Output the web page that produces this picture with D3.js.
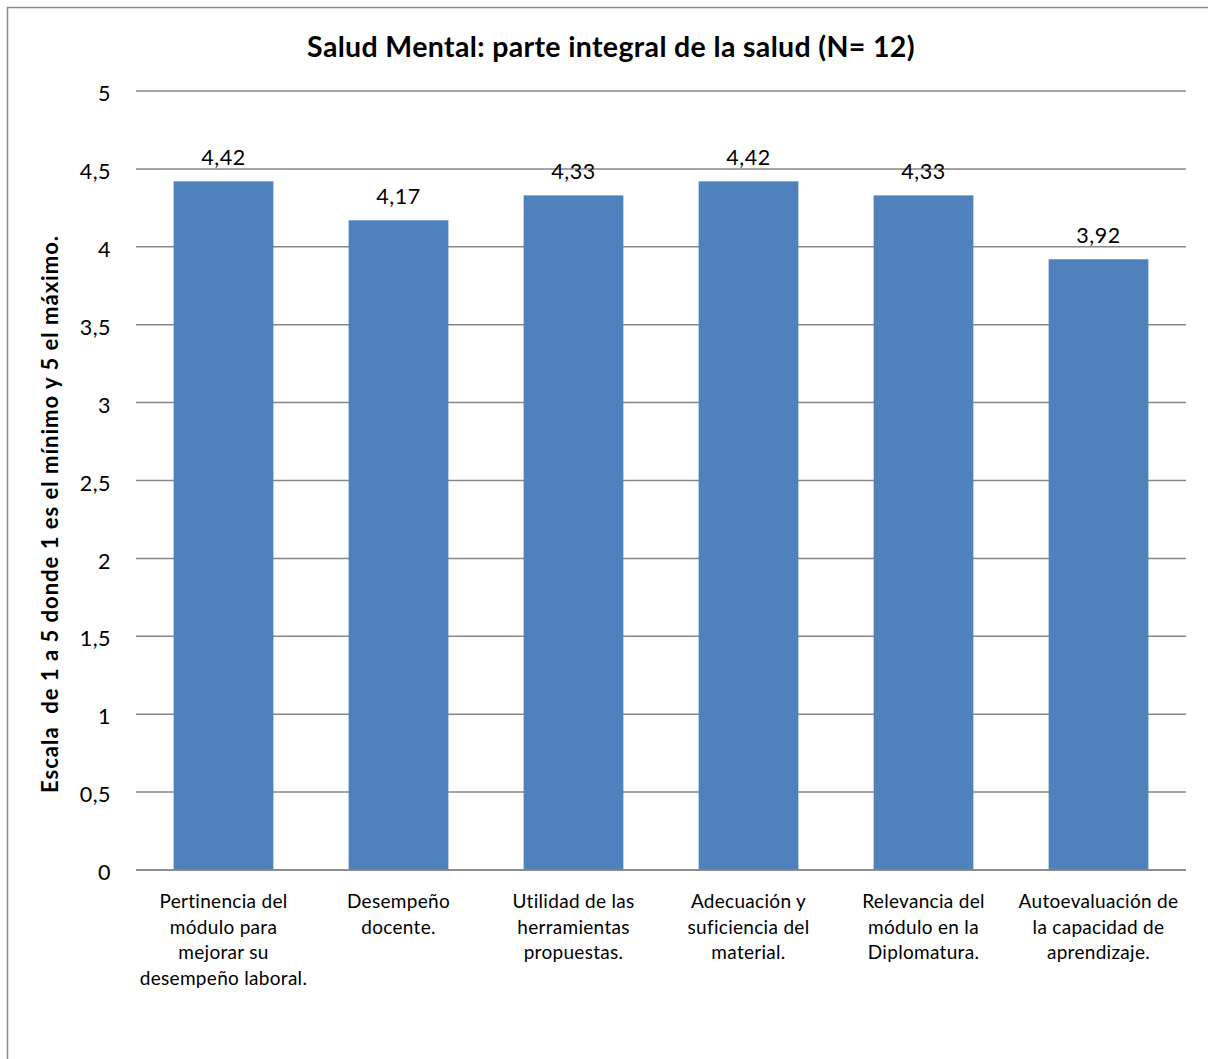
<!DOCTYPE html>
<html><head><meta charset="utf-8">
<script src="https://cdn.jsdelivr.net/npm/d3@7"></script>
<style>body{margin:0;background:#fff}svg{display:block}</style>
</head><body>
<script>
const categories = [
  ["Pertinencia del","módulo para","mejorar su","desempeño laboral."],
  ["Desempeño","docente."],
  ["Utilidad de las","herramientas","propuestas."],
  ["Adecuación y","suficiencia del","material."],
  ["Relevancia del","módulo en la","Diplomatura."],
  ["Autoevaluación de","la capacidad de","aprendizaje."]
];
const values = [4.42, 4.17, 4.33, 4.42, 4.33, 3.92];
const yTicks = [0, 0.5, 1, 1.5, 2, 2.5, 3, 3.5, 4, 4.5, 5];
const title = "Salud Mental: parte integral de la salud (N= 12)";
const yTitle = "Escala  de 1 a 5 donde 1 es el mínimo y 5 el máximo.";

(function () {
const W = 1208, H = 1059;
const font = "Lato, 'Open Sans', sans-serif";
const svg = d3.select("body").append("svg").attr("width", W).attr("height", H);
svg.append("rect").attr("x", 7.5).attr("y", 7.5).attr("width", W).attr("height", H)
  .attr("fill", "#fff").attr("stroke", "#8c8c8c").attr("stroke-width", 1.5);

const pL = 136, pR = 1186, pT = 91, pB = 870;
const x = d3.scaleBand().domain(d3.range(categories.length)).range([pL, pR]).paddingInner(0.43).paddingOuter(0.215);
const y = d3.scaleLinear().domain([0, 5]).range([pB, pT]);

svg.append("g").selectAll("line").data(yTicks).join("line")
  .attr("x1", pL).attr("x2", pR)
  .attr("y1", d => y(d)).attr("y2", d => y(d))
  .attr("stroke", "#878787").attr("stroke-width", 1.5);

svg.append("g").selectAll("text").data(yTicks).join("text")
  .attr("x", 111).attr("y", d => y(d)).attr("dy", "0.47em")
  .attr("text-anchor", "end").attr("font-family", font).attr("font-size", 21.5).attr("fill", "#000")
  .attr("letter-spacing", 0.5)
  .text(d => String(d).replace(".", ","));

svg.append("g").selectAll("rect").data(values).join("rect")
  .attr("x", (d, i) => x(i)).attr("width", x.bandwidth())
  .attr("y", d => y(d)).attr("height", d => y(0) - y(d))
  .attr("fill", "#4F81BD");

svg.append("line").attr("x1", pL).attr("x2", pR).attr("y1", y(0)).attr("y2", y(0))
  .attr("stroke", "#878787").attr("stroke-width", 1.5);

svg.append("g").selectAll("text").data(values).join("text")
  .attr("x", (d, i) => x(i) + x.bandwidth() / 2).attr("y", d => y(d) - 16)
  .attr("text-anchor", "middle").attr("font-family", font).attr("font-size", 21.5).attr("fill", "#000")
  .attr("letter-spacing", 0.5)
  .text(d => d.toFixed(2).replace(".", ","));

const cat = svg.append("g").selectAll("text").data(categories).join("text")
  .attr("x", (d, i) => x(i) + x.bandwidth() / 2).attr("y", 908)
  .attr("text-anchor", "middle").attr("font-family", font).attr("font-size", 19).attr("fill", "#000")
  .attr("letter-spacing", 0.3);
cat.selectAll("tspan").data(d => d).join("tspan")
  .attr("x", function () { return d3.select(this.parentNode).attr("x"); })
  .attr("dy", (d, i) => i === 0 ? 0 : 25.5)
  .text(d => d);

svg.append("text").attr("x", 611).attr("y", 57).attr("text-anchor", "middle")
  .attr("font-family", font).attr("font-weight", "bold").attr("font-size", 28.5).attr("fill", "#000")
  .attr("letter-spacing", 0.35)
  .text(title);

svg.append("text").attr("transform", "translate(58,514) rotate(-90)")
  .attr("text-anchor", "middle").attr("font-family", font).attr("font-weight", "bold")
  .attr("font-size", 22).attr("fill", "#000").attr("letter-spacing", 1)
  .style("white-space", "pre")
  .text(yTitle);
})();
</script>
</body></html>
